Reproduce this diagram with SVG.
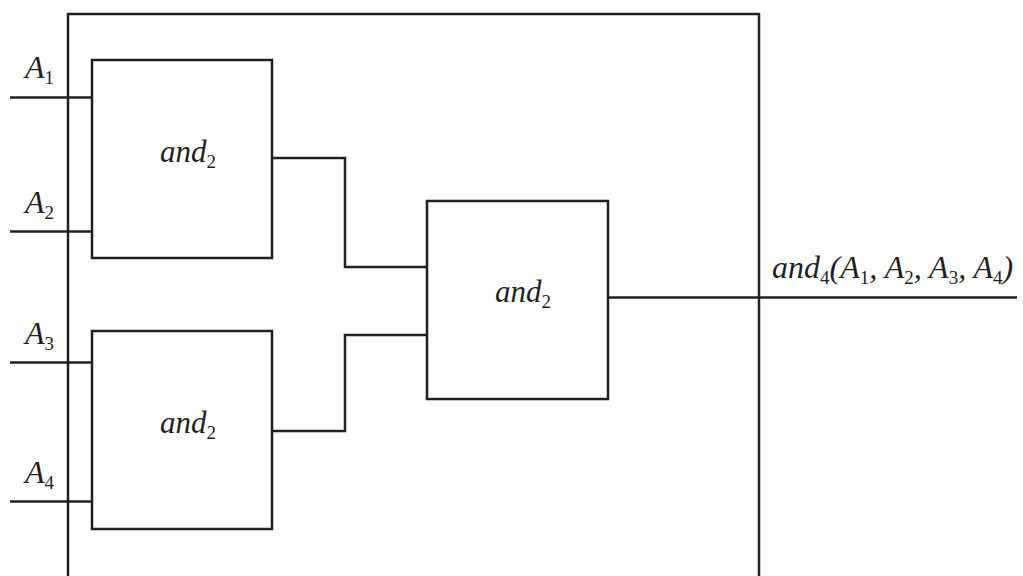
<svg xmlns="http://www.w3.org/2000/svg" width="1023" height="576" viewBox="0 0 1023 576">
  <style>
    .ln { fill: none; stroke: #231f20; stroke-width: 2.5; }
    .box { fill: #ffffff; stroke: #231f20; stroke-width: 2.5; }
    .lbl { font-family: "Liberation Serif", "Times New Roman", serif; font-style: italic; font-size: 32px; fill: #231f20; }
    .gate { font-size: 31px; }
    .sub { font-size: 19px; font-style: normal; }
  </style>
  <rect width="1023" height="576" fill="#ffffff"/>

  <!-- enclosing module -->
  <g id="and4-module">
    <path class="ln" d="M68 580 V14 H759 V580"/>
  </g>

  <g id="connectors">
    <!-- primary inputs -->
    <path class="ln" d="M10 97.5 H92"/>
    <path class="ln" d="M10 231.5 H92"/>
    <path class="ln" d="M10 362.5 H92"/>
    <path class="ln" d="M10 501.5 H92"/>
    <!-- internal wiring -->
    <path class="ln" d="M272 158 H345 V267 H427"/>
    <path class="ln" d="M272 431 H345 V335 H427"/>
    <!-- output -->
    <path class="ln" d="M608 297.5 H1017"/>
  </g>

  <g id="input-labels">
    <text class="lbl" x="25" y="78">A<tspan class="sub" dy="6">1</tspan></text>
    <text class="lbl" x="25" y="213">A<tspan class="sub" dy="6">2</tspan></text>
    <text class="lbl" x="25" y="344">A<tspan class="sub" dy="6">3</tspan></text>
    <text class="lbl" x="25" y="483">A<tspan class="sub" dy="6">4</tspan></text>
  </g>

  <g id="gate-top">
    <rect class="box" x="92" y="60" width="180" height="198"/>
    <text class="lbl gate" x="160" y="162">and<tspan class="sub" dy="6">2</tspan></text>
  </g>

  <g id="gate-bottom">
    <rect class="box" x="92" y="331" width="180" height="198"/>
    <text class="lbl gate" x="160" y="433">and<tspan class="sub" dy="6">2</tspan></text>
  </g>

  <g id="gate-final">
    <rect class="box" x="427" y="201" width="181" height="198"/>
    <text class="lbl gate" x="495" y="302">and<tspan class="sub" dy="6">2</tspan></text>
  </g>

  <g id="output-label">
    <text class="lbl" x="772" y="278">and<tspan class="sub" dy="6">4</tspan><tspan dy="-6">(A</tspan><tspan class="sub" dy="6">1</tspan><tspan dy="-6">, A</tspan><tspan class="sub" dy="6">2</tspan><tspan dy="-6">, A</tspan><tspan class="sub" dy="6">3</tspan><tspan dy="-6">, A</tspan><tspan class="sub" dy="6">4</tspan><tspan dy="-6">)</tspan></text>
  </g>
</svg>
